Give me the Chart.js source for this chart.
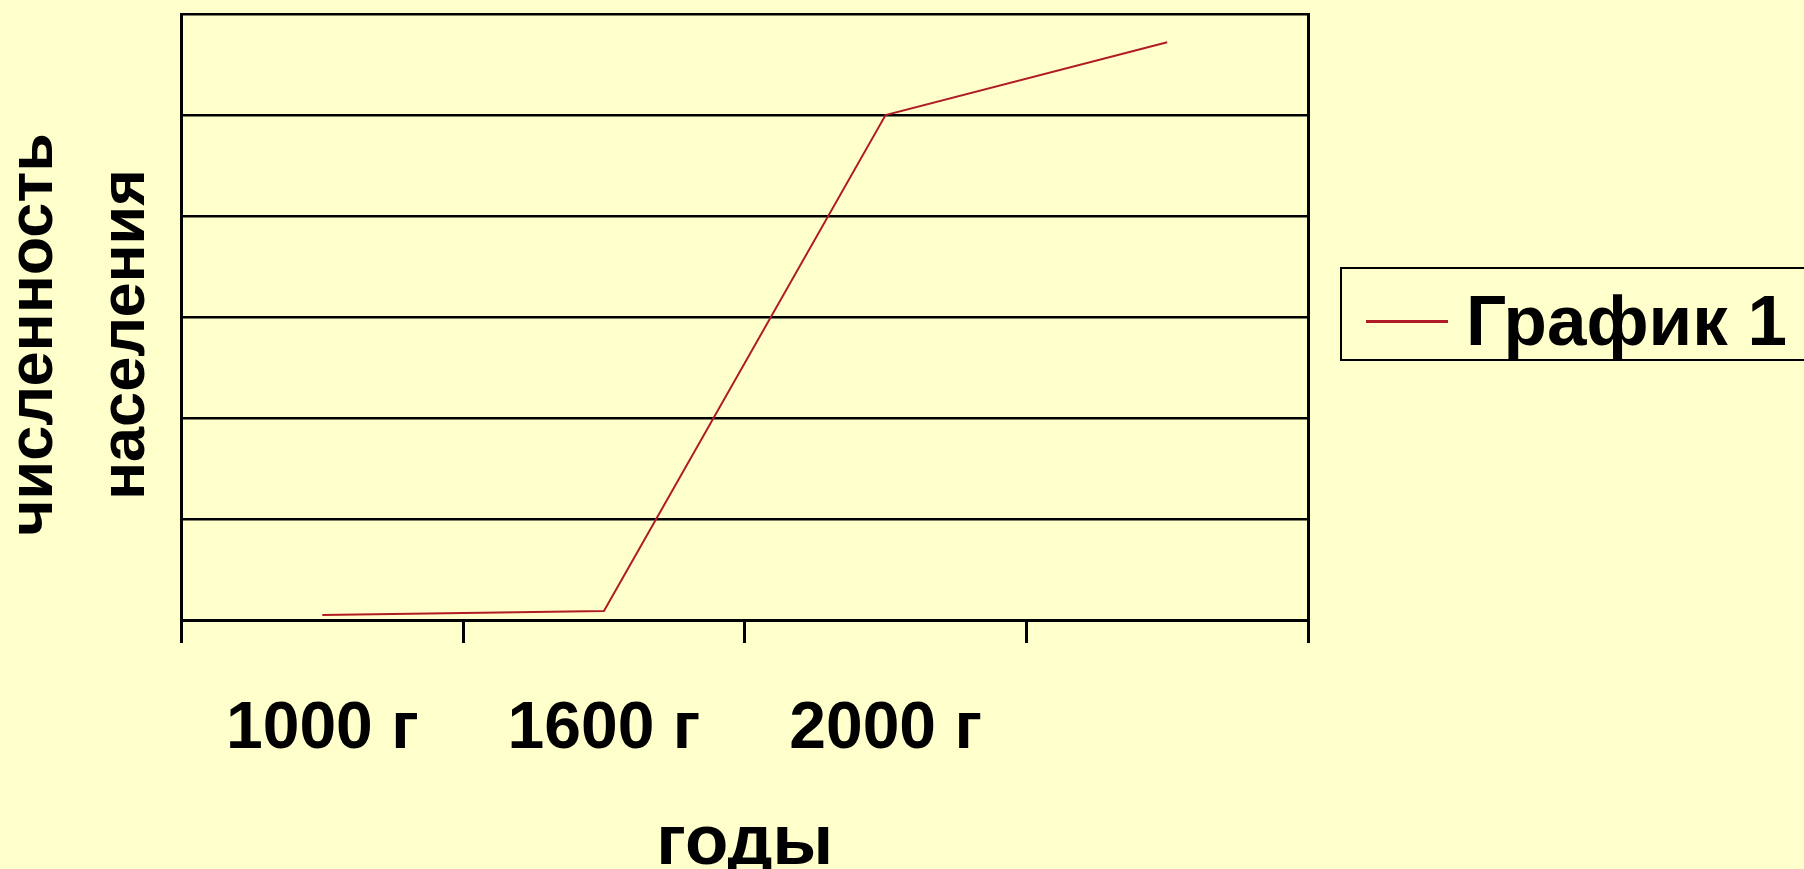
<!DOCTYPE html>
<html lang="ru">
<head>
<meta charset="utf-8">
<title>численность населения</title>
<script src="https://cdn.jsdelivr.net/npm/chart.js@4.4.1/dist/chart.umd.min.js"></script>
<style>
html,body{margin:0;padding:0;background:#ffffcc;overflow:hidden;width:1804px;height:869px}
#wrap{position:absolute;left:-12px;top:0;width:1816px;height:869px}
#legend{position:absolute;left:1340px;top:267px;width:520px;height:94px;box-sizing:border-box;border:2px solid #000}
#legend .swatch{position:absolute;left:24px;top:51px;width:82px;height:3px}
#legend .name{position:absolute;left:124px;top:16px;font:bold 71px/71px 'Liberation Sans',Arial,sans-serif;color:#000;white-space:nowrap}
</style>
</head>
<body>
<div id="wrap"><canvas id="popChart"></canvas></div>
<div id="legend"></div>
<script>
// categories and values
const years=["1000 г","1600 г","2000 г",""]
const population=[0.05,0.09,5.0,5.72]
const seriesName="График 1"
// trailing spaces push the rotated title a little lower, as in the original
const yTitle=["численность  ","населения  "]
const xTitle="годы"

const lineColor="#b01c24"

Chart.defaults.font.family="'Liberation Sans', Arial, sans-serif"
Chart.defaults.font.weight="bold"
Chart.defaults.color="#000"

const ctx=document.getElementById("popChart")

const chart=new Chart(ctx,{
  type:"line",
  data:{
    labels:years,
    datasets:[{
      label:seriesName,
      data:population,
      borderColor:lineColor,
      backgroundColor:lineColor,
      borderWidth:2,
      pointRadius:0,
      tension:0,
      fill:false
    }]
  },
  options:{
    responsive:true,
    maintainAspectRatio:false,
    animation:false,
    layout:{padding:{top:14,right:496,bottom:0,left:0}},
    plugins:{
      tooltip:{enabled:false},
      legend:{display:false}
    },
    scales:{
      x:{
        offset:true,
        grid:{
          display:true,
          offset:true,
          drawOnChartArea:false,
          drawTicks:true,
          tickLength:23,
          color:"#000",
          lineWidth:3
        },
        border:{display:true,color:"#000",width:3},
        ticks:{
          font:{size:66,weight:"bold"},
          padding:47,
          maxRotation:0,
          autoSkip:false
        },
        title:{
          display:true,
          text:xTitle,
          font:{size:71,weight:"bold",lineHeight:"50px"},
          padding:{top:2.8,bottom:0}
        }
      },
      y:{
        min:0,
        max:6,
        ticks:{display:false,stepSize:1},
        grid:{color:"#000",lineWidth:2.5,drawTicks:false},
        border:{display:true,color:"#000",width:3},
        title:{
          display:true,
          text:yTitle,
          font:{size:63,weight:"bold",lineHeight:"92px"},
          padding:{top:0.5,bottom:9}
        }
      },
      y2:{
        position:"right",
        display:true,
        min:0,
        max:6,
        ticks:{display:false},
        grid:{display:false,drawTicks:false},
        border:{display:true,color:"#000",width:3}
      }
    }
  }
})

// html legend built from the dataset
const legendBox=document.getElementById("legend")
chart.data.datasets.forEach(ds=>{
  const sw=document.createElement("span")
  sw.className="swatch"
  sw.style.background=ds.borderColor
  const name=document.createElement("span")
  name.className="name"
  name.textContent=ds.label
  legendBox.appendChild(sw)
  legendBox.appendChild(name)
})
</script>
</body>
</html>
